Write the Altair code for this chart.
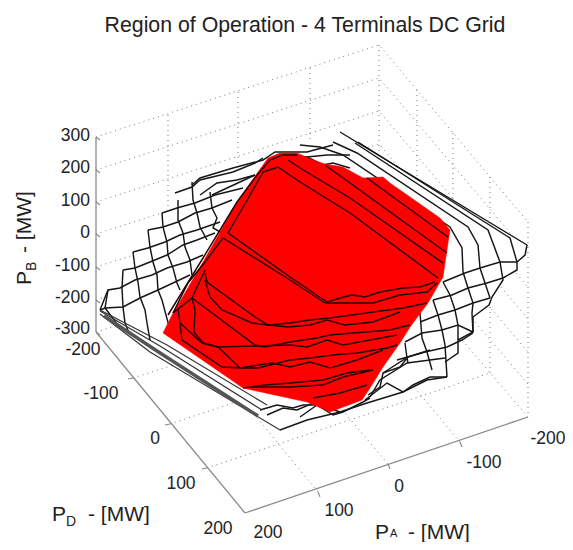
import altair as alt
import pandas as pd

# ---- Projected 3D box (values in the picture's projected plane) ----
floor_L, floor_F, floor_R, floor_B = (96, 332), (245, 513), (528, 417), (379, 243)
top_L, top_B, top_R = (96, 137), (379, 45), (528, 222)

level_left = [137, 170, 202, 234, 267, 300, 332]
level_back = [45, 78, 111, 144, 177, 210, 243]
level_right = [222, 254, 287, 319, 352, 384, 417]

back_x = [168, 238, 310]
back_top = [115, 92, 68]
back_bot = [309, 286, 263]
right_x = [417, 453, 490]
right_top = [90, 133, 177]
right_bot = [287, 330, 373]

tick_a = [(318, 492), (388, 464), (460, 442)]
tick_d = [(133, 378), (170, 424), (207, 468)]

# ---- Labels ----
z_labels = ["300", "200", "100", "0", "-100", "-200", "-300"]
z_label_y = [136, 168, 201, 233, 266, 298, 329]
d_labels = ["-200", "-100", "0", "100", "200"]
d_label_x = [83, 101, 155, 181, 218]
d_label_y = [350, 394, 439, 484, 529]
a_labels = ["200", "100", "0", "-100", "-200"]
a_label_x = [268, 339, 399, 484, 548]
a_label_y = [533, 511, 487, 463, 439]

# ---- Outer silhouettes ----
mesh_outline = [(100,310),(108,293),(120,287),(123,270),(133,267),(132,253),(148,245),(148,228),(162,225),
    (162,213),(177,207),(175,193),(192,185),(193,180),(213,177),(237,168),(277,153),(300,145),(317,138),
    (338,131),(527,245),(525,255),(517,262),(517,270),(503,282),(490,297),(489,305),(473,317),(473,332),
    (458,340),(458,353),(447,362),(447,377),(403,392),(370,398),(280,430),(100,314)]
red_outline = [(163,333),(172,315),(203,262),(237,202),(258,172),(268,158),(280,153),(297,153),(313,160),
    (325,164),(343,167),(363,178),(383,177),(390,183),(440,218),(450,230),(448,243),(443,277),(428,303),
    (410,327),(400,343),(383,367),(370,388),(362,400),(330,412),(307,402),(270,394),(243,388)]

# ---- Mesh traces ----
mesh_left_cols = [
    [(162,213),(163,227),(167,242),(168,255),(173,268),(177,283),(180,290)],
    [(148,230),(150,247),(153,262),(157,275),(158,290),(162,300),(170,330)],
    [(133,252),(135,268),(138,282),(140,297),(145,310),(147,323),(150,340)],
    [(123,270),(122,288),(123,307),(125,323),(130,335)],
    [(108,290),(105,308),(118,325)],
    [(178,200),(178,220),(183,233),(185,247),(190,260),(192,275)],
    [(192,182),(193,200),(197,213),(200,227),(207,240)],
    [(210,192),(212,208),(217,218),(213,228),(222,233)],
]
mesh_left_rows = [
    [(100,310),(108,290),(120,288),(135,280),(152,275),(167,268),(187,262),(203,255)],
    [(100,310),(105,308),(123,307),(140,298),(158,290),(173,283),(190,275)],
    [(123,270),(135,268),(150,262),(167,255),(183,245),(197,240),(215,233)],
    [(133,252),(148,248),(165,242),(180,235),(197,230),(220,222)],
    [(148,230),(163,227),(178,222),(195,213),(212,208),(232,200)],
    [(162,213),(177,208),(195,203),(215,195),(243,188)],
    [(175,193),(192,187),(200,180),(233,172),(255,163),(263,158)],
    [(192,185),(200,178),(233,168),(263,160),(275,152),(307,152),(333,145)],
    [(200,195),(217,183),(237,180),(255,175)],
    [(212,195),(255,175)],
    [(287,155),(307,157),(327,155),(350,155)],
    [(307,157),(323,165),(333,163),(350,168)],
]
mesh_band = [
    [(100,310),(167,345),(267,405)],
    [(100,311),(160,346),(262,410)],
    [(100,314),(150,352),(280,430)],
]
mesh_band_dark = [[(104,316),(157,351),(258,416)]]
mesh_right = [
    [(340,132),(527,245),(525,255),(517,262),(500,262),(480,268),(465,273),(443,282)],
    [(358,142),(510,238),(517,262),(517,270),(503,278),(487,283),(468,288),(452,295),(433,300)],
    [(355,143),(488,230),(500,262),(503,280),(492,297),(489,305),(473,317),(473,332),(458,340),(458,353),(445,362)],
    [(333,142),(357,153),(468,227),(478,245),(480,268),(485,283),(490,298)],
    [(300,145),(320,147),(343,155),(450,227),(462,248),(463,272),(468,288),(473,303),(472,313),(473,332)],
    [(443,282),(450,295),(455,310),(458,325),(458,340)],
    [(433,300),(438,315),(442,330),(445,345),(447,377)],
    [(420,313),(422,338),(427,352),(432,370)],
    [(405,343),(407,358),(408,363)],
    [(420,322),(438,315),(455,310),(473,303),(490,298)],
    [(405,342),(422,333),(442,330),(458,325),(473,332)],
    [(397,360),(425,352),(447,347),(462,340),(473,333)],
    [(370,397),(380,380),(407,363),(430,360),(445,358)],
    [(383,373),(408,357),(430,350)],
    [(368,395),(380,387),(383,373),(400,367),(408,357)],
]
mesh_bottom = [
    [(280,430),(307,420),(340,412),(367,403),(403,392),(427,380),(447,377)],
    [(300,417),(317,405),(333,415),(343,412),(363,402),(370,398)],
    [(365,400),(387,383),(403,392),(413,385),(430,377),(447,377)],
    [(260,410),(277,405),(293,408),(303,405),(320,405),(340,412)],
    [(267,415),(283,408),(297,410),(313,403),(327,410)],
]

# ---- Traces on the red region ----
red_top = [
    [(278,167),(300,182),(350,213),(438,278)],
    [(288,160),(300,168),(350,198),(443,263)],
    [(325,165),(447,253)],
    [(367,178),(448,237)],
    [(228,233),(290,277),(327,302)],
    [(223,238),(290,280),(325,303)],
    [(228,233),(250,195),(263,172),(278,167)],
    [(168,315),(203,258),(237,202),(257,175),(270,160),(282,155),(297,155)],
    [(173,313),(188,283),(205,262),(223,238)],
]
red_mid = [
    [(327,302),(340,298),(352,295),(365,297),(380,292),(403,288),(420,287),(435,282)],
    [(325,303),(350,303),(373,303),(400,295),(427,292),(437,283)],
    [(205,273),(207,282),(255,317),(268,325),(290,323),(310,320),(330,318),(352,315),(373,312),(403,308),(427,303)],
    [(205,280),(210,297),(222,310),(252,323),(268,325),(288,327),(310,325),(327,320),(345,325),(373,322),(400,312)],
    [(192,298),(255,345),(265,347),(290,342),(317,338),(330,335),(353,333),(390,330),(410,325)],
    [(192,298),(195,310),(194,332),(203,343),(218,347),(258,346),(290,345),(307,347),(327,340),(343,345),(370,340),(397,335)],
    [(178,309),(180,323),(202,343),(218,347),(240,368)],
    [(180,323),(182,340),(222,367),(242,368),(258,368),(290,360),(310,358),(333,355),(357,353),(387,348),(397,345)],
    [(240,368),(272,363),(290,367),(310,362),(330,368),(357,360),(383,350)],
    [(243,388),(265,385),(290,383),(323,380),(347,373),(370,370)],
    [(252,387),(290,387),(323,385),(343,377),(373,370)],
    [(313,398),(340,393),(367,385)],
    [(205,270),(192,298),(178,309),(173,313)],
]

# ---- Build the derived helper tables ----
grid_lines = []
for a, b, c in zip(level_left, level_back, level_right):
    grid_lines.append([(floor_L[0], a), (floor_B[0], b), (floor_R[0], c)])
for x, t, b in zip(back_x, back_top, back_bot):
    grid_lines.append([(x, t), (x, b)])
for x, t, b in zip(right_x, right_top, right_bot):
    grid_lines.append([(x, t), (x, b)])
grid_lines.append([top_B, floor_B])
grid_lines.append([top_R, floor_R])
for p, x, b in zip(tick_a, back_x, back_bot):
    grid_lines.append([p, (x, b)])
for p, x, b in zip(tick_d, right_x, right_bot):
    grid_lines.append([p, (x, b)])

axis_lines = [[top_L, floor_L], [floor_L, floor_F], [floor_F, floor_R]]
tick_lines = []
for p in tick_a:
    tick_lines.append([p, (p[0] + 2, p[1] + 5)])
for p in tick_d:
    tick_lines.append([p, (p[0] - 5, p[1] + 1)])
for y in level_left:
    tick_lines.append([(96, y), (100, y + 3)])

xs = alt.Scale(domain=[8, 565], nice=False, zero=False)
ys = alt.Scale(domain=[542, 8], nice=False, zero=False)


def table(polys):
    rows = []
    for g, poly in enumerate(polys):
        for i, (x, y) in enumerate(poly):
            rows.append({"g": g, "i": i, "x": x, "y": y})
    return pd.DataFrame(rows)


def enc(chart):
    return chart.encode(
        x=alt.X("x:Q", scale=xs, axis=None),
        y=alt.Y("y:Q", scale=ys, axis=None),
        detail="g:N",
        order="i:Q",
    )


def lines(polys, color="#161616", width=1.45, **kw):
    return enc(alt.Chart(table(polys)).mark_line(color=color, strokeWidth=width, interpolate="linear", clip=False, **kw))


def polygon(poly, fill):
    return enc(alt.Chart(table([poly + [poly[0]]])).mark_line(fill=fill, stroke=fill, strokeWidth=0.5, filled=True, clip=False))


def texts(labels, px, py, size=17.5, align="center", angle=0, color="#222222"):
    df = pd.DataFrame({"x": px, "y": py, "t": labels})
    return alt.Chart(df).mark_text(
        font="Liberation Sans", fontSize=size, align=align, baseline="middle", angle=angle, color=color
    ).encode(
        x=alt.X("x:Q", scale=xs, axis=None),
        y=alt.Y("y:Q", scale=ys, axis=None),
        text="t:N",
    )


layers = [
    lines(grid_lines, color="#777777", width=1, strokeDash=[1, 4]),
    lines(axis_lines, color="#8a8a8a", width=1.3),
    lines(tick_lines, color="#8a8a8a", width=1.1),
    polygon(mesh_outline, "#ffffff"),
    lines(mesh_left_cols + mesh_left_rows + mesh_right + mesh_bottom),
    lines(mesh_band, color="#333333", width=1.2),
    lines(mesh_band_dark, color="#555555", width=3.5),
    polygon(red_outline, "#ff0000"),
    lines(red_top + red_mid, color="#260000", width=1.45),
    texts(["Region of Operation - 4 Terminals DC Grid"], [305], [26], size=21.3),
    texts(z_labels, [90] * 7, z_label_y, align="right"),
    texts(d_labels, d_label_x, d_label_y),
    texts(a_labels, a_label_x, a_label_y),
    texts(["P"], [52], [515], size=21, align="left"),
    texts(["D"], [66], [522], size=14, align="left"),
    texts(["- [MW]"], [88], [515], size=21, align="left"),
    texts(["P"], [375], [533], size=21, align="left"),
    texts(["A"], [390], [534], size=11, align="left"),
    texts(["- [MW]"], [408], [533], size=21, align="left"),
    texts(["P"], [25], [285], size=21, align="left", angle=270),
    texts(["B"], [32], [271], size=14, align="left", angle=270),
    texts(["- [MW]"], [25], [253], size=21, align="left", angle=270),
]

chart = alt.layer(*layers).properties(
    width=557, height=534, padding=0, autosize=alt.AutoSizeParams(type="none")
).configure_view(stroke=None)

chart.save("out.html", embed_options={"renderer": "svg", "actions": False})
